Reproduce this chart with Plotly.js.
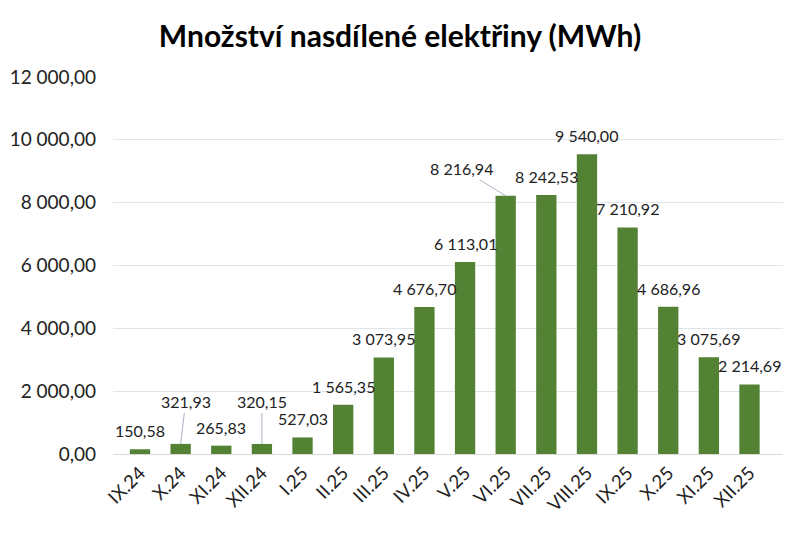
<!DOCTYPE html>
<html>
<head>
<meta charset="utf-8">
<script src="https://cdn.plot.ly/plotly-3.0.1.min.js"></script>
<style>
  html, body { margin: 0; padding: 0; background: #fff; }
  #chart { width: 800px; height: 533px; }
</style>
</head>
<body>
<div id="chart"></div>
<script>
// months (Roman numeral month . year)
var months = ['IX.24', 'X.24', 'XI.24', 'XII.24', 'I.25', 'II.25', 'III.25', 'IV.25',
              'V.25', 'VI.25', 'VII.25', 'VIII.25', 'IX.25', 'X.25', 'XI.25', 'XII.25'];
// shared electricity in MWh
var sharedMWh = [150.58, 321.93, 265.83, 320.15, 527.03, 1565.35, 3073.95, 4676.70,
                 6113.01, 8216.94, 8242.53, 9540.00, 7210.92, 4686.96, 3075.69, 2214.69];
var yTicks = [0, 2000, 4000, 6000, 8000, 10000, 12000];

var green = '#548235';
var fontFam = 'Lato, "Open Sans", sans-serif';

// czech number format: "8 216,94"
function fmt(v) {
  var parts = v.toFixed(2).split('.');
  var whole = parts[0].replace(/\B(?=(\d{3})+(?!\d))/g, ' ');
  return whole + ',' + parts[1];
}

// a few labels are pushed away with a leader line, as in the original
var leader = { 'X.24': [5, -42], 'XII.24': [0, -42], 'VI.25': [-44, -27] };

var notes = months.map(function (m, i) {
  var n = {
    x: m, y: sharedMWh[i], text: fmt(sharedMWh[i]),
    xref: 'x', yref: 'y',
    font: { family: fontFam, size: 16, color: '#222' }
  };
  if (leader[m]) {
    n.showarrow = true;
    n.arrowhead = 0;
    n.arrowwidth = 1;
    n.arrowcolor = '#a9b4c2';
    n.standoff = 0;
    n.ax = leader[m][0];
    n.ay = leader[m][1];
  } else {
    n.showarrow = false;
    n.yanchor = 'bottom';
    n.yshift = 7;
  }
  return n;
});

var data = [{
  x: months,
  y: sharedMWh,
  type: 'bar',
  marker: { color: green },
  hoverinfo: 'x+y'
}];

var layout = {
  width: 800,
  height: 533,
  margin: { t: 77, b: 79, l: 113, r: 17 },
  paper_bgcolor: '#fff',
  plot_bgcolor: '#fff',
  separators: ', ',
  showlegend: false,
  bargap: 0.5,
  title: {
    text: '<b>Množství nasdílené elektřiny (MWh)</b>',
    x: 0.5, xanchor: 'center',
    y: 0.932, yanchor: 'middle',
    font: { family: fontFam, size: 30, color: '#000' }
  },
  xaxis: {
    type: 'category',
    tickangle: -45,
    tickfont: { family: fontFam, size: 18.5, color: '#222' },
    showline: true,
    linecolor: '#d9d9d9',
    linewidth: 1,
    ticks: '',
    showgrid: false
  },
  yaxis: {
    range: [0, 12000],
    tickvals: yTicks,
    tickformat: ',.2f',
    tickfont: { family: fontFam, size: 19, color: '#222' },
    gridcolor: '#dfe3ea',
    gridwidth: 1,
    zeroline: false,
    showline: false,
    ticks: '',
    ticklabelstandoff: 16
  },
  annotations: notes
};

Plotly.newPlot('chart', data, layout, { staticPlot: true });
</script>
</body>
</html>
